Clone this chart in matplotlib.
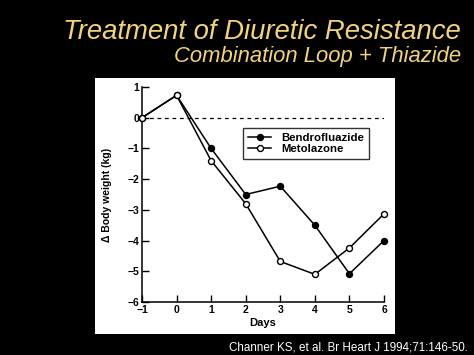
import matplotlib
matplotlib.use("Agg")
import matplotlib.pyplot as plt

days = [-1, 0, 1, 2, 3, 4, 5, 6]
bendrofluazide = [0.0, 0.73, -1.0, -2.5, -2.23, -3.5, -5.08, -4.0]
metolazone = [0.0, 0.73, -1.4, -2.8, -4.68, -5.1, -4.24, -3.13]
x_ticks = [-1, 0, 1, 2, 3, 4, 5, 6]
y_ticks = [1, 0, -1, -2, -3, -4, -5, -6]

TITLE_COLOR = "#F2D27C"


def main():
    plt.rcParams['font.family'] = ['Liberation Sans', 'DejaVu Sans']

    fig = plt.figure(figsize=(4.74, 3.55), dpi=100, facecolor="black")

    # white panel behind the scanned chart
    panel = fig.add_axes([95 / 474, 21 / 355, 300 / 474, 256 / 355], zorder=0)
    panel.set_facecolor("white")
    panel.set_xticks([])
    panel.set_yticks([])
    for s in panel.spines.values():
        s.set_visible(False)

    fig.text(461 / 474, 1 - 39 / 355, "Treatment of Diuretic Resistance",
             color=TITLE_COLOR, fontsize=19.8, style="italic", ha="right", va="baseline")
    fig.text(461 / 474, 1 - 62 / 355, "Combination Loop + Thiazide",
             color=TITLE_COLOR, fontsize=15.8, style="italic", ha="right", va="baseline")
    fig.text(468 / 474, 1 - 350 / 355, "Channer KS, et al. Br Heart J 1994;71:146-50.",
             color="white", fontsize=8.4, ha="right", va="baseline")

    ax = fig.add_axes([142 / 474, 53 / 355, 242 / 474, 215 / 355], zorder=1)
    ax.set_facecolor("none")

    ax.axhline(0, color="black", linestyle=(0, (3, 3)), linewidth=0.9, zorder=1)
    ax.plot(days, bendrofluazide, color="black", marker="o", markersize=4.3,
            markerfacecolor="black", linewidth=1.1, label="Bendrofluazide", zorder=3, clip_on=False)
    ax.plot(days, metolazone, color="black", marker="o", markersize=4.3,
            markerfacecolor="white", linewidth=1.1, label="Metolazone", zorder=3, clip_on=False)

    ax.set_xlim(-1, 6)
    ax.set_ylim(-6, 1)
    ax.set_xticks(x_ticks)
    ax.set_yticks(y_ticks)
    ax.set_xticklabels([str(t).replace("-", "\u2212") for t in x_ticks], fontweight="bold")
    ax.set_yticklabels([str(t).replace("-", "\u2212") for t in y_ticks], fontweight="bold")
    ax.tick_params(direction="in", length=4.8, width=1, labelsize=7.5)
    ax.tick_params(axis="x", pad=2.5)
    ax.tick_params(axis="y", pad=2)

    ax.spines["top"].set_visible(False)
    ax.spines["right"].set_visible(False)
    for s in ("left", "bottom"):
        ax.spines[s].set_linewidth(1.1)

    ax.set_xlabel("Days", fontweight="bold", fontsize=8, labelpad=2)
    ax.set_ylabel("\u0394 Body weight (kg)", fontweight="bold", fontsize=7.5, labelpad=11)

    leg = ax.legend(loc="upper left", bbox_to_anchor=((243 - 142) / 242, (302 - 128) / 215),
                    borderaxespad=0, frameon=True, fancybox=False, handlelength=2.1,
                    borderpad=0.4, labelspacing=0.15, handletextpad=0.9,
                    prop={"weight": "bold", "size": 8.2})
    leg.get_frame().set_edgecolor("black")
    leg.get_frame().set_linewidth(1.0)

    fig.savefig("out.png", dpi=100, facecolor="black")


if __name__ == "__main__":
    main()
